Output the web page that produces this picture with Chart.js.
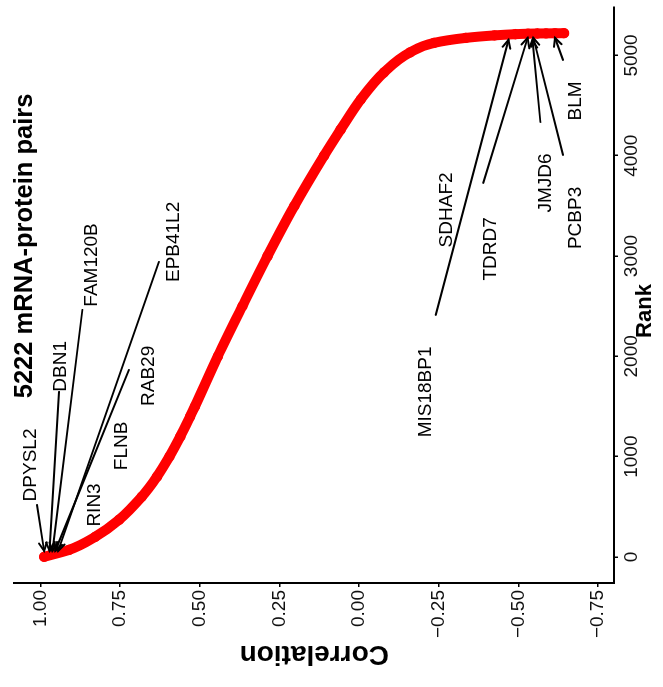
<!DOCTYPE html>
<html>
<head>
<meta charset="utf-8">
<script src="https://cdn.jsdelivr.net/npm/chart.js@4"></script>
<style>
html, body { margin: 0; padding: 0; background: #fff; overflow: hidden; }
/* the chart is drawn upright, then turned a quarter turn like the reference */
#wrap { position: absolute; left: 0; top: 0; width: 687px; height: 663px;
  transform-origin: 0 0; transform: translate(0, 687px) rotate(-90deg); }
</style>
</head>
<body>
<div id="wrap"><canvas id="myChart" width="687" height="663"></canvas></div>
<script>
// Curve: rank vs correlation
const rankValues = [1, 70, 200, 370, 600, 800, 1000, 1200, 1400, 1500, 2000, 2500, 3000, 3500, 4000, 4260, 4560, 4830, 5030, 5125, 5175, 5200, 5212, 5217, 5219, 5220, 5221, 5222];
const corrValues = [0.988, 0.910, 0.828, 0.753, 0.682, 0.634, 0.595, 0.561, 0.530, 0.515, 0.443, 0.366, 0.287, 0.203, 0.110, 0.058, -0.005, -0.078, -0.160, -0.235, -0.335, -0.425, -0.490, -0.530, -0.559, -0.587, -0.615, -0.643];

// Axis ticks
const rankTicks = [0, 1000, 2000, 3000, 4000, 5000];
const corrTicks = [-0.75, -0.5, -0.25, 0, 0.25, 0.5, 0.75, 1];
const corrTickLabels = ["\u22120.75", "\u22120.50", "\u22120.25", "0.00", "0.25", "0.50", "0.75", "1.00"];

// Gene labels (text centre in data units)
const geneNames = ["DPYSL2", "DBN1", "FAM120B", "EPB41L2", "RAB29", "FLNB", "RIN3", "MIS18BP1", "SDHAF2", "TDRD7", "JMJD6", "PCBP3", "BLM"];
const geneRank = [917, 1900, 2911, 3141, 1805, 1107, 518, 1645, 3460, 3071, 3729, 3380, 4546];
const geneCorr = [1.031, 0.937, 0.840, 0.581, 0.660, 0.743, 0.828, -0.210, -0.275, -0.412, -0.587, -0.681, -0.681];

// Arrows from label to point
const arrowFromRank = [518, 1645, 2463, 2941, 1864, 2413, 3729, 4337, 4008, 4955];
const arrowFromCorr = [1.010, 0.941, 0.868, 0.628, 0.722, -0.241, -0.390, -0.569, -0.640, -0.640];
const arrowToRank = [60, 60, 60, 60, 60, 5155, 5175, 5155, 5175, 5175];
const arrowToCorr = [0.988, 0.971, 0.962, 0.944, 0.953, -0.469, -0.529, -0.544, -0.547, -0.615];

const noteText = "5222 mRNA-protein pairs";
const noteRank = 3101;
const noteCorr = 1.047;

const fontFamily = '"Liberation Sans", Arial, Helvetica, sans-serif';

const labelPlugin = {
  id: "geneLabels",
  afterDatasetsDraw(chart) {
    const ctx = chart.ctx;
    const x = chart.scales.x;
    const y = chart.scales.y;
    ctx.save();
    ctx.strokeStyle = "#000";
    ctx.lineWidth = 2;
    ctx.lineCap = "round";
    for (let i = 0; i < arrowFromRank.length; i++) {
      const x0 = x.getPixelForValue(arrowFromRank[i]);
      const y0 = y.getPixelForValue(arrowFromCorr[i]);
      const x1 = x.getPixelForValue(arrowToRank[i]);
      const y1 = y.getPixelForValue(arrowToCorr[i]);
      ctx.beginPath();
      ctx.moveTo(x0, y0);
      ctx.lineTo(x1, y1);
      ctx.stroke();
      const a = Math.atan2(y1 - y0, x1 - x0);
      const h = 9;
      ctx.beginPath();
      ctx.moveTo(x1 - h * Math.cos(a - 0.45), y1 - h * Math.sin(a - 0.45));
      ctx.lineTo(x1, y1);
      ctx.lineTo(x1 - h * Math.cos(a + 0.45), y1 - h * Math.sin(a + 0.45));
      ctx.stroke();
    }
    ctx.fillStyle = "#000";
    ctx.textAlign = "center";
    ctx.textBaseline = "middle";
    ctx.font = "19px " + fontFamily;
    for (let i = 0; i < geneNames.length; i++) {
      ctx.fillText(geneNames[i], x.getPixelForValue(geneRank[i]), y.getPixelForValue(geneCorr[i]));
    }
    ctx.font = "bold 25.5px " + fontFamily;
    ctx.fillText(noteText, x.getPixelForValue(noteRank), y.getPixelForValue(noteCorr));

    // x axis title, set a little off centre as in the reference
    const area = chart.chartArea;
    ctx.font = "bold 22px " + fontFamily;
    ctx.fillText("Rank", (area.left + area.right) / 2 - 16, chart.height - 18);
    ctx.restore();
  }
};

const ctx = document.getElementById("myChart");

let chart = new Chart(ctx, {
  type: "line",
  data: {
    datasets: [
      {
        label: "Correlation",
        data: rankValues.map((r, i) => ({ x: r, y: corrValues[i] })),
        borderColor: "#ff0000",
        backgroundColor: "#ff0000",
        borderWidth: 10,
        borderCapStyle: "round",
        borderJoinStyle: "round",
        cubicInterpolationMode: "monotone",
        pointRadius: 5.2,
        pointBorderWidth: 0,
        fill: false
      }
    ]
  },
  options: {
    responsive: false,
    animation: false,
    devicePixelRatio: 1,
    layout: { padding: { top: 12, right: 7, left: 0, bottom: 0 } },
    plugins: { legend: { display: false }, tooltip: { enabled: false } },
    scales: {
      x: {
        type: "linear",
        min: -260,
        max: 5483,
        afterBuildTicks: s => { s.ticks = rankTicks.map(v => ({ value: v })); },
        afterFit: s => { s.height = 49; },
        border: { display: true, color: "#000", width: 2 },
        grid: { drawOnChartArea: false, drawTicks: true, tickLength: 4, color: "#000", lineWidth: 1.5 },
        ticks: {
          color: "#111", padding: 2, maxRotation: 0,
          font: { size: 19, family: fontFamily },
          callback: (v, i) => String(rankTicks[i])
        },
        title: { display: false }
      },
      y: {
        type: "linear",
        min: -0.80,
        max: 1.08125,
        afterBuildTicks: s => { s.ticks = corrTicks.map(v => ({ value: v })); },
        afterFit: s => { s.width = 104; },
        border: { display: true, color: "#000", width: 2 },
        grid: { drawOnChartArea: false, drawTicks: true, tickLength: 4, color: "#000", lineWidth: 1.5 },
        ticks: {
          color: "#111", padding: 3,
          font: { size: 19, family: fontFamily },
          callback: (v, i) => corrTickLabels[i]
        },
        title: {
          display: true, text: "Correlation", color: "#000",
          font: { size: 28, weight: "bold", family: fontFamily },
          padding: { top: 16, bottom: 0 }
        }
      }
    }
  },
  plugins: [labelPlugin]
});
</script>
</body>
</html>
